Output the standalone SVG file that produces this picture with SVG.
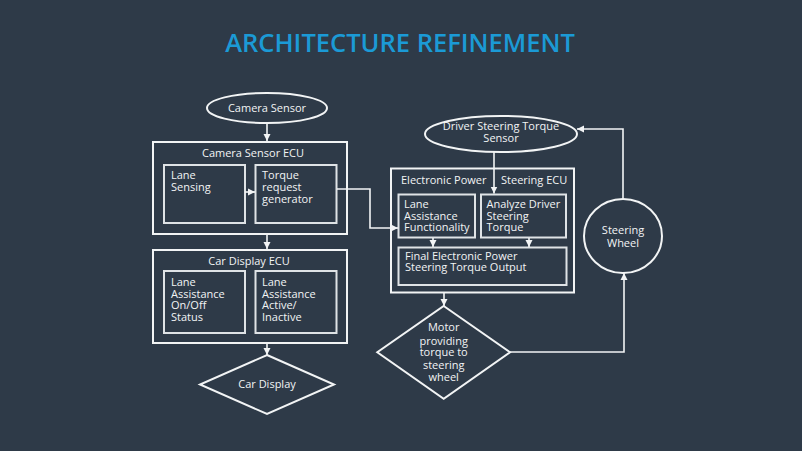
<svg xmlns="http://www.w3.org/2000/svg" width="802" height="451" viewBox="0 0 802 451">
<defs>
<marker id="ah" markerUnits="userSpaceOnUse" markerWidth="8" markerHeight="8" refX="7" refY="4" orient="auto">
<path d="M0,0.5 L7,4 L0,7.5 Z" fill="#f2f4f5"/>
</marker>
<style>
.bg{fill:#2e3a48}
.box{fill:none;stroke:#f2f4f5;stroke-width:2}
.ibox{fill:none;stroke:#dfe3e6;stroke-width:2}
.t{font-family:"Open Sans","Noto Sans","Liberation Sans",sans-serif;font-size:11px;fill:#f2f4f5}
.c{text-anchor:middle}
.ln{fill:none;stroke:#f2f4f5;stroke-width:1.6}
.title{font-family:"Open Sans","Noto Sans","Liberation Sans",sans-serif;font-size:25.5px;font-weight:600;fill:#1b9ad6;text-anchor:middle}
</style>
</defs>
<rect class="bg" x="0" y="0" width="802" height="451"/>
<text class="title" x="400" y="51.5">ARCHITECTURE REFINEMENT</text>

<g id="camera-sensor">
<ellipse class="box" cx="267" cy="108" rx="60" ry="15"/>
<text class="t c" x="267" y="112">Camera Sensor</text>
</g>

<g id="camera-sensor-ecu">
<rect class="box" x="153" y="142" width="194" height="92"/>
<text class="t c" x="253" y="157">Camera Sensor ECU</text>
</g>
<g id="lane-sensing">
<rect class="ibox" x="164" y="165" width="81" height="58"/>
<text class="t" x="171" y="179">Lane</text>
<text class="t" x="171" y="191">Sensing</text>
</g>
<g id="torque-request">
<rect class="ibox" x="255.5" y="165" width="81" height="58"/>
<text class="t" x="262" y="179">Torque</text>
<text class="t" x="262" y="191">request</text>
<text class="t" x="262" y="203">generator</text>
</g>

<g id="car-display-ecu">
<rect class="box" x="153" y="250" width="194" height="93"/>
<text class="t c" x="249" y="265">Car Display ECU</text>
</g>
<g id="lane-onoff">
<rect class="ibox" x="164" y="271" width="81" height="62"/>
<text class="t" x="171" y="286">Lane</text>
<text class="t" x="171" y="297.5">Assistance</text>
<text class="t" x="171" y="309">On/Off</text>
<text class="t" x="171" y="320.5">Status</text>
</g>
<g id="lane-active">
<rect class="ibox" x="255.5" y="271" width="81" height="62"/>
<text class="t" x="262" y="286">Lane</text>
<text class="t" x="262" y="297.5">Assistance</text>
<text class="t" x="262" y="309">Active/</text>
<text class="t" x="262" y="320.5">Inactive</text>
</g>

<g id="car-display">
<polygon class="box" points="267,355 334,384.5 267,414 200,384.5"/>
<text class="t c" x="267" y="388">Car Display</text>
</g>

<g id="driver-torque-sensor">
<ellipse class="box" cx="501" cy="134" rx="76" ry="18"/>
<text class="t c" x="501" y="130">Driver Steering Torque</text>
<text class="t c" x="501" y="142">Sensor</text>
</g>

<g id="eps-ecu">
<rect class="box" x="391" y="168.5" width="183" height="124"/>
<text class="t" x="401" y="184">Electronic Power</text>
<text class="t" x="501" y="184">Steering ECU</text>
</g>
<g id="lane-assist-func">
<rect class="ibox" x="398.5" y="194.5" width="76.5" height="43"/>
<text class="t" x="404" y="208">Lane</text>
<text class="t" x="404" y="219.5">Assistance</text>
<text class="t" x="404" y="231">Functionality</text>
</g>
<g id="analyze-driver">
<rect class="ibox" x="481" y="194.5" width="85" height="43"/>
<text class="t" x="486.5" y="208">Analyze Driver</text>
<text class="t" x="486.5" y="219.5">Steering</text>
<text class="t" x="486.5" y="231">Torque</text>
</g>
<g id="final-output">
<rect class="ibox" x="398.5" y="247.5" width="168" height="37.5"/>
<text class="t" x="405" y="259.5">Final Electronic Power</text>
<text class="t" x="405" y="271">Steering Torque Output</text>
</g>

<g id="motor">
<polygon class="box" points="443.7,306 510,352.3 443.7,398.7 377.3,352.3"/>
<text class="t c" x="443.7" y="331">Motor</text>
<text class="t c" x="443.7" y="344.5">providing</text>
<text class="t c" x="443.7" y="356">torque to</text>
<text class="t c" x="443.7" y="368.5">steering</text>
<text class="t c" x="443.7" y="381">wheel</text>
</g>

<g id="steering-wheel">
<ellipse class="box" cx="623" cy="236" rx="39" ry="37"/>
<text class="t c" x="623" y="234">Steering</text>
<text class="t c" x="623" y="246.5">Wheel</text>
</g>

<g id="connectors">
<line class="ln" x1="267" y1="123" x2="267" y2="141" marker-end="url(#ah)"/>
<line class="ln" x1="245" y1="192" x2="255" y2="192" marker-end="url(#ah)"/>
<path class="ln" d="M337,189 H370 V228 H398" marker-end="url(#ah)"/>
<line class="ln" x1="267" y1="234" x2="267" y2="249" marker-end="url(#ah)"/>
<line class="ln" x1="267" y1="343" x2="267" y2="355" marker-end="url(#ah)"/>
<line class="ln" x1="494" y1="152" x2="494" y2="193.5" marker-end="url(#ah)"/>
<line class="ln" x1="433" y1="238" x2="433" y2="247" marker-end="url(#ah)"/>
<line class="ln" x1="529" y1="238" x2="529" y2="247" marker-end="url(#ah)"/>
<line class="ln" x1="444" y1="292.5" x2="444" y2="306" marker-end="url(#ah)"/>
<path class="ln" d="M510,352 H624 V273" marker-end="url(#ah)"/>
<path class="ln" d="M623,199 V129 H577" marker-end="url(#ah)"/>
</g>
</svg>
